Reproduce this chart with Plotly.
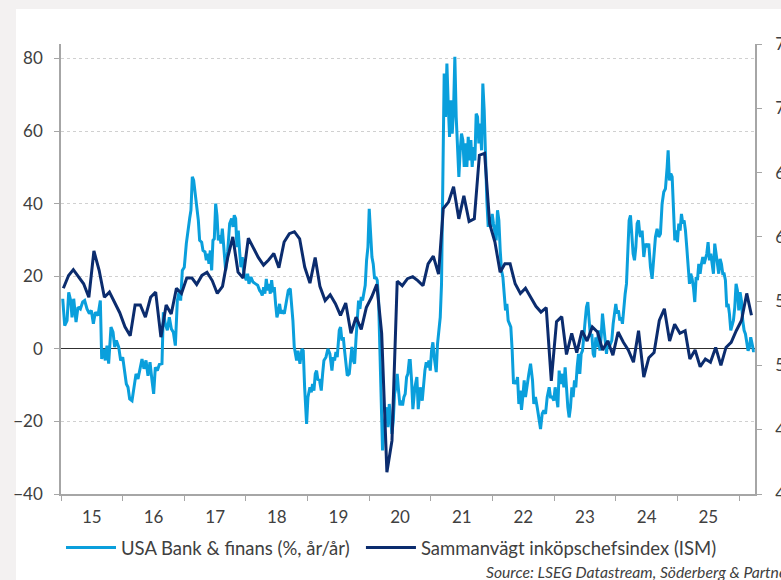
import pandas as pd
import plotly.graph_objects as go

# ---------------- data ----------------
# Sammanvägt inköpschefsindex (ISM), monthly from Jan 2015
ism_start = "2015-01-01"
ism_values = [
    56.0, 57.0, 57.45, 56.9, 56.35, 55.3, 58.9, 57.4, 55.3, 55.7, 54.9, 54.1, 53.0, 52.3, 54.7, 54.7, 53.75, 55.3, 55.7, 52.2, 54.7, 54.0, 56.0,
    55.6, 56.8, 56.8, 56.3, 57.0, 57.25, 56.6, 55.6, 56.15, 58.4, 60.0, 57.25, 56.8, 59.9, 59.1, 58.4, 57.8, 58.2, 58.7, 57.6, 59.6, 60.25, 60.4,
    59.85, 57.65, 56.4, 58.4, 56.15, 55.05, 55.5, 54.8, 53.9, 54.85, 52.5, 53.75, 52.8, 54.5, 55.3, 56.3, 52.5, 41.7, 44.15, 56.55, 56.2, 56.75,
    56.9, 56.6, 56.2, 57.9, 58.5, 57.1, 62.2, 62.7, 63.9, 61.4, 63.2, 61.2, 61.4, 66.35, 66.5, 61.0, 59.6, 57.25, 57.9, 57.9, 56.35, 55.6, 56.0,
    55.3, 54.6, 54.15, 54.5, 48.8, 53.4, 53.8, 50.85, 52.5, 51.0, 52.7, 51.9, 53.0, 52.6, 51.2, 51.9, 50.8, 52.6, 51.8, 51.2, 50.25, 52.7,
    49.1, 50.6, 51.0, 53.5, 54.4, 51.9, 53.2, 52.5, 52.7, 50.5, 51.2, 49.9, 50.5, 50.25, 51.4, 50.0, 51.4, 51.8, 52.7, 53.5, 55.6, 53.9,
]

# USA Bank & finans (%, år/år) - observation times (decimal years) and values
bank_t = [
    # 2015-2016
    2015.028, 2015.060, 2015.098, 2015.125, 2015.157, 2015.179, 2015.206, 2015.244, 2015.276, 2015.314,
    2015.352, 2015.384, 2015.422, 2015.460, 2015.492, 2015.525, 2015.557, 2015.600, 2015.638, 2015.660,
    2015.692, 2015.719, 2015.746, 2015.773, 2015.811, 2015.844, 2015.871, 2015.898, 2015.936, 2015.968,
    2016.001, 2016.033, 2016.060, 2016.087, 2016.114, 2016.152, 2016.184, 2016.217, 2016.249, 2016.281,
    2016.314, 2016.346, 2016.379, 2016.411, 2016.444, 2016.476, 2016.503, 2016.530, 2016.563, 2016.595,
    2016.638, 2016.660, 2016.692, 2016.725, 2016.757, 2016.790, 2016.822, 2016.855, 2016.887,
    # 2016-2018
    2016.914, 2016.941, 2016.968, 2017.000, 2017.033, 2017.065, 2017.087, 2017.108, 2017.130, 2017.152,
    2017.173, 2017.206, 2017.228, 2017.249, 2017.282, 2017.303, 2017.336, 2017.357, 2017.379, 2017.400,
    2017.422, 2017.444, 2017.465, 2017.487, 2017.509, 2017.530, 2017.552, 2017.573, 2017.595, 2017.617,
    2017.644, 2017.671, 2017.703, 2017.736, 2017.768, 2017.790, 2017.811, 2017.833, 2017.854, 2017.876,
    2017.898, 2017.919, 2017.941, 2017.963, 2017.984, 2018.006, 2018.027, 2018.049, 2018.081, 2018.114,
    2018.157, 2018.190, 2018.222, 2018.244, 2018.265, 2018.287, 2018.308, 2018.330, 2018.352, 2018.373,
    2018.395, 2018.417, 2018.438, 2018.460, 2018.481, 2018.503, 2018.525, 2018.546, 2018.568, 2018.590,
    2018.622, 2018.654, 2018.687, 2018.719, 2018.741, 2018.762, 2018.784, 2018.806,
    # 2018-2020
    2018.822, 2018.844, 2018.876, 2018.908, 2018.930, 2018.952, 2018.984, 2019.006, 2019.038, 2019.060,
    2019.081, 2019.103, 2019.125, 2019.146, 2019.168, 2019.190, 2019.222, 2019.244, 2019.265, 2019.298,
    2019.330, 2019.362, 2019.395, 2019.417, 2019.438, 2019.460, 2019.481, 2019.514, 2019.535, 2019.557,
    2019.579, 2019.600, 2019.622, 2019.644, 2019.676, 2019.698, 2019.719, 2019.741, 2019.763, 2019.784,
    2019.806, 2019.827, 2019.849, 2019.871, 2019.892, 2019.914, 2019.935, 2019.957, 2019.979, 2020.000,
    2020.022, 2020.044, 2020.065, 2020.087, 2020.108, 2020.130, 2020.152, 2020.173, 2020.195, 2020.216,
    2020.238, 2020.260, 2020.281, 2020.303, 2020.325, 2020.346, 2020.368, 2020.390, 2020.411, 2020.433,
    2020.454, 2020.476, 2020.498, 2020.519, 2020.541, 2020.562, 2020.584, 2020.606, 2020.627, 2020.649,
    # 2020-2022
    2020.665, 2020.687, 2020.708, 2020.741, 2020.773, 2020.795, 2020.827, 2020.860, 2020.881, 2020.903,
    2020.925, 2020.946, 2020.968, 2020.990, 2021.011, 2021.033, 2021.054, 2021.087, 2021.108, 2021.130,
    2021.152, 2021.173, 2021.195, 2021.216, 2021.238, 2021.260, 2021.281, 2021.303, 2021.324, 2021.346,
    2021.368, 2021.389, 2021.411, 2021.433, 2021.454, 2021.476, 2021.497, 2021.519, 2021.541, 2021.562,
    2021.584, 2021.606, 2021.627, 2021.649, 2021.670, 2021.692, 2021.714, 2021.735, 2021.757, 2021.778,
    2021.800, 2021.822, 2021.843, 2021.865, 2021.887, 2021.908, 2021.930, 2021.951, 2021.973, 2021.995,
    2022.016, 2022.038, 2022.060, 2022.081, 2022.103, 2022.125, 2022.146, 2022.168, 2022.190, 2022.211,
    2022.233, 2022.254, 2022.276, 2022.297, 2022.319, 2022.341, 2022.362, 2022.384, 2022.406, 2022.427,
    2022.449, 2022.470, 2022.492, 2022.514,
    # 2022-2024
    2022.535, 2022.562, 2022.589, 2022.617, 2022.649, 2022.670, 2022.697, 2022.725, 2022.752, 2022.779,
    2022.806, 2022.833, 2022.860, 2022.887, 2022.919, 2022.941, 2022.968, 2022.995, 2023.016, 2023.038,
    2023.060, 2023.081, 2023.103, 2023.135, 2023.157, 2023.178, 2023.200, 2023.222, 2023.243, 2023.265,
    2023.287, 2023.308, 2023.330, 2023.351, 2023.373, 2023.395, 2023.416, 2023.438, 2023.460, 2023.481,
    2023.503, 2023.524, 2023.546, 2023.568, 2023.589, 2023.611, 2023.633, 2023.654, 2023.676, 2023.697,
    2023.719, 2023.741, 2023.762, 2023.784, 2023.805, 2023.827, 2023.849, 2023.870, 2023.892, 2023.914,
    2023.935, 2023.957, 2023.979, 2024.000, 2024.022, 2024.043, 2024.065, 2024.087, 2024.108, 2024.130,
    2024.152, 2024.173, 2024.195, 2024.216, 2024.238, 2024.259, 2024.281, 2024.303, 2024.325, 2024.346,
    2024.368, 2024.389,
    # 2024-2026
    2024.400, 2024.427, 2024.454, 2024.481, 2024.508, 2024.535, 2024.562, 2024.589, 2024.616, 2024.643,
    2024.670, 2024.697, 2024.724, 2024.751, 2024.778, 2024.805, 2024.833, 2024.849, 2024.870, 2024.892,
    2024.914, 2024.935, 2024.957, 2024.979, 2025.000, 2025.022, 2025.043, 2025.065, 2025.087, 2025.108,
    2025.130, 2025.151, 2025.173, 2025.195, 2025.216, 2025.238, 2025.259, 2025.281, 2025.303, 2025.324,
    2025.346, 2025.368, 2025.389, 2025.411, 2025.433, 2025.454, 2025.476, 2025.497, 2025.519, 2025.541,
    2025.562, 2025.584, 2025.605, 2025.627, 2025.649, 2025.670, 2025.692, 2025.714, 2025.735, 2025.757,
    2025.778, 2025.800, 2025.822, 2025.843, 2025.865, 2025.887, 2025.908, 2025.930, 2025.951, 2025.973,
    2025.995, 2026.016, 2026.038, 2026.059, 2026.081, 2026.103, 2026.124, 2026.146, 2026.168, 2026.189,
    2026.211, 2026.232, 2026.254,
]
bank_values = [
    # 2015-2016
    13.8, 6.4, 7.8, 15.6, 13.3, 8.7, 13.8, 7.4, 11.5, 11.0,
    12.9, 13.3, 11.0, 9.7, 10.6, 6.9, 10.1, 9.2, 13.3, -2.8,
    0.0, -3.2, 0.9, -4.1, 6.0, 4.6, 0.5, 2.3, 0.5, -3.2,
    -2.3, -6.0, -9.7, -10.6, -13.8, -14.3, -11.0, -6.9, -8.3, -6.0,
    -2.8, -5.5, -3.2, -7.4, -3.7, -8.7, -12.4, -5.1, -6.0, -4.3,
    -4.1, 10.1, 6.9, 5.1, 8.7, 5.5, 4.6, 0.9, 13.3,
    # 2016-2018
    15.6, 13.3, 21.6, 22.5, 29.0, 34.0, 35.9, 38.2, 47.4, 46.4,
    43.2, 39.1, 35.4, 29.9, 29.4, 27.1, 26.7, 24.4, 26.2, 23.4,
    27.1, 21.6, 29.9, 30.3, 40.0, 36.8, 29.9, 31.3, 29.0, 33.1,
    27.1, 21.6, 26.7, 34.5, 35.9, 33.6, 36.8, 35.9, 28.0, 32.6,
    26.7, 22.5, 25.3, 21.1, 19.8, 18.9, 20.7, 17.9, 19.8, 18.4,
    17.9, 17.5, 16.1, 15.6, 14.7, 17.0, 15.2, 19.3, 16.1, 17.9,
    15.2, 18.9, 15.6, 17.0, 12.4, 8.7, 10.1, 12.4, 9.7, 10.6,
    9.7, 13.3, 16.1, 16.6, 12.4, 7.8, 0.5, -2.3,
    # 2018-2020
    -3.2, -0.5, -4.1, 0.0, -0.5, -10.6, -20.7, -13.3, -10.6, -12.0,
    -9.7, -11.5, -6.9, -6.0, -8.7, -8.3, -11.5, -6.9, -3.2, -2.3,
    0.0, -1.4, -6.0, -2.3, -3.2, -0.9, -2.3, 5.1, 6.0, 2.3,
    3.2, -0.5, -5.1, -7.4, -6.9, -3.2, 0.5, -3.2, -4.1, 2.3,
    6.9, 13.3, 11.0, 14.3, 13.3, 15.6, 17.5, 24.4, 28.0, 38.6,
    29.9, 25.3, 23.4, 19.3, 19.8, 18.9, 13.3, 1.4, -12.4, -28.0,
    -21.6, -17.9, -16.1, -21.6, -15.2, -18.9, -23.4, -19.8, -12.4, -10.6,
    -6.9, -11.5, -15.6, -14.3, -15.6, -13.3, -12.4, -7.8, -6.9, -3.2,
    # 2020-2022
    -3.2, -8.7, -16.6, -10.6, -7.8, -16.6, -10.6, -14.3, -8.7, -6.0,
    -3.7, -5.1, -3.2, -6.0, -0.5, 1.8, -2.3, -6.4, 1.4, 5.1,
    8.7, 17.9, 45.5, 75.9, 63.9, 78.6, 67.6, 58.4, 68.5, 59.3,
    65.7, 80.5, 63.9, 56.6, 47.4, 54.7, 59.3, 57.5, 50.1, 56.6,
    50.1, 58.4, 51.9, 57.5, 50.1, 55.6, 51.9, 64.8, 63.9, 56.6,
    62.1, 54.7, 73.1, 65.7, 52.0, 40.9, 33.6, 36.3, 33.6, 37.2,
    34.5, 31.7, 29.9, 38.2, 35.4, 27.1, 21.6, 19.8, 15.2, 10.6,
    12.4, 7.8, 6.9, 6.0, -0.5, -9.7, -8.7, -9.7, -7.8, -15.2,
    -11.5, -16.8, -13.1, -8.7,
    # 2022-2024
    -13.3, -9.7, -6.9, -4.1, -8.7, -15.2, -13.3, -16.1, -18.9, -22.1,
    -17.9, -17.0, -17.9, -13.3, -10.6, -13.3, -13.3, -14.3, -10.6, -13.3,
    -16.1, -6.0, -9.7, -6.9, -10.6, -5.1, -11.5, -16.1, -18.9, -16.1,
    -10.6, -13.3, -8.7, -10.6, -5.1, -1.4, -6.9, -1.4, -0.5, 5.1,
    7.8, 11.5, 12.9, 7.8, 3.2, 4.1, -1.4, -2.3, 3.2, 0.5,
    5.1, -0.5, 3.2, 9.7, 6.0, 2.3, -1.4, 2.3, 0.5, 1.4,
    2.3, 6.9, 10.6, 12.4, 9.7, 10.6, 7.8, 8.7, 6.9, 11.5,
    15.2, 17.9, 26.2, 35.4, 36.8, 31.7, 26.2, 24.4, 28.0, 34.5,
    35.4, 31.7,
    # 2024-2026
    30.8, 32.6, 25.3, 29.0, 28.0, 29.0, 22.5, 19.3, 26.2, 30.8,
    33.1, 30.8, 31.7, 40.0, 43.2, 44.1, 50.1, 54.7, 46.4, 48.3,
    47.4, 40.0, 29.9, 32.6, 29.4, 34.5, 32.6, 37.2, 34.5, 35.4,
    32.6, 28.0, 22.5, 17.9, 20.7, 19.3, 17.0, 12.9, 19.8, 18.9,
    23.4, 20.7, 23.4, 25.3, 23.4, 24.8, 26.2, 29.4, 24.4, 26.2,
    22.5, 20.7, 29.0, 26.2, 22.5, 20.7, 24.8, 23.4, 20.7, 20.7,
    18.9, 11.5, 12.4, 9.7, 5.1, 6.9, 7.8, 11.5, 17.9, 16.1,
    10.6, 15.6, 13.3, 7.8, 5.1, 4.1, 2.3, -0.5, 0.5, 3.2,
    1.4, -0.5, -0.5,
]
assert len(bank_t) == len(bank_values)

left_ticks = [-40, -20, 0, 20, 40, 60, 80]
right_ticks = [40, 45, 50, 55, 60, 65, 70, 75]
bank_name = "USA Bank & finans (%, år/år)"
ism_name = "Sammanvägt inköpschefsindex (ISM)"
source_text = "Source: LSEG Datastream, Söderberg & Partners"

# ---------------- conversions ----------------
origin = pd.Timestamp("2015-01-01")
bank_dates = [origin + pd.Timedelta(days=(t - 2015.0) * 365.25) for t in bank_t]
ism_dates = pd.date_range(ism_start, periods=len(ism_values), freq="MS") + pd.Timedelta(days=14)

FONT = "Lato, Carlito, 'Liberation Sans', sans-serif"
TXT = "#404040"
AXC = "#a6a6a6"

fig = go.Figure()
fig.add_trace(go.Scatter(x=bank_dates, y=bank_values, name=bank_name, mode="lines",
                         line=dict(color="#0a9fdc", width=3), yaxis="y", legend="legend"))
fig.add_trace(go.Scatter(x=ism_dates, y=ism_values, name=ism_name, mode="lines",
                         line=dict(color="#0b2c6e", width=3), yaxis="y2", legend="legend2"))

legend_common = dict(orientation="h", xanchor="left", y=-0.12, yanchor="middle",
                     font=dict(size=18.5, color=TXT), bgcolor="rgba(0,0,0,0)", itemwidth=50)

fig.update_layout(
    width=781, height=580, autosize=False,
    margin=dict(l=61, r=26, t=44, b=86, autoexpand=False),
    paper_bgcolor="#f3f1f1",
    plot_bgcolor="white",
    font=dict(family=FONT, size=17, color=TXT),
    shapes=[dict(type="rect", xref="paper", yref="paper", x0=-0.0648, x1=1.2, y0=-0.4, y1=1.0778,
                 fillcolor="white", line=dict(width=0), layer="below")],
    xaxis=dict(
        type="date", range=["2015-01-01", "2026-04-05"], automargin=False,
        dtick="M12", tick0="2015-01-01", tickformat="%y", ticklabelmode="period",
        ticks="outside", ticklen=5, tickcolor=AXC, tickwidth=1,
        showline=True, linecolor=AXC, linewidth=1.5,
        showgrid=False, zeroline=False,
        tickfont=dict(size=17, color=TXT), ticklabelstandoff=2,
    ),
    yaxis=dict(
        range=[-40, 84], tickvals=left_ticks, automargin=False,
        ticks="outside", ticklen=5, tickcolor=AXC,
        showline=True, linecolor=AXC, linewidth=1.5,
        showgrid=True, gridcolor="#d0d0d0", griddash="dot", gridwidth=1,
        zeroline=True, zerolinecolor="#303030", zerolinewidth=1,
        tickfont=dict(size=17, color=TXT), ticklabelstandoff=8,
    ),
    yaxis2=dict(
        overlaying="y", side="right", range=[40, 75], tickvals=right_ticks, automargin=False,
        ticks="outside", ticklen=5, tickcolor=AXC,
        showline=True, linecolor=AXC, linewidth=1.5,
        showgrid=False, zeroline=False,
        tickfont=dict(size=17, color=TXT), ticklabelstandoff=10,
    ),
    legend=dict(x=0.0, **legend_common),
    legend2=dict(x=0.4322, **legend_common),
    showlegend=True,
    annotations=[dict(text="<i>" + source_text + "</i>", xref="paper", yref="paper",
                      x=0.6095, y=-0.1733, xanchor="left", yanchor="middle", showarrow=False,
                      font=dict(size=15.7, color=TXT))],
)

fig.write_html(
    "out.html",
    config={"displayModeBar": False},
    post_script="document.body.style.margin='0';document.body.style.background='#f3f1f1';",
)
